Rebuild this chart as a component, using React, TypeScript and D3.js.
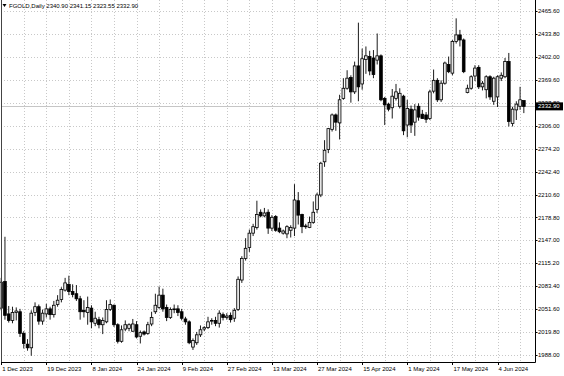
import React from 'react';
import * as d3 from 'd3';

// ---- data (daily candles, FGOLD) ----
const opens = [
  2053, 2090, 2045, 2036, 2047, 2048, 2018, 2003, 1998, 2047,
  2055, 2035, 2045, 2052, 2044, 2058, 2065, 2078, 2086, 2076,
  2073, 2066, 2050, 2047, 2053, 2032, 2037, 2030, 2034, 2051,
  2057, 2030, 2007, 2024, 2025, 2021, 2030, 2014, 2020, 2018,
  2031, 2048, 2054, 2071, 2054, 2040, 2051, 2052, 2048, 2038,
  2034, 1999, 2005, 2016, 2024, 2026, 2035, 2036, 2032, 2044,
  2040, 2043, 2039, 2051, 2092, 2122, 2137, 2157, 2165, 2186,
  2181, 2186, 2164, 2180, 2164, 2157, 2156, 2161, 2164, 2202,
  2183, 2166, 2165, 2172, 2190, 2210, 2256, 2273, 2301, 2321,
  2310, 2344, 2358, 2373, 2353, 2389, 2364, 2398, 2402, 2400,
  2397, 2403, 2344, 2336, 2331, 2344, 2333, 2347, 2307, 2329,
  2311, 2333, 2322, 2321, 2316, 2354, 2369, 2342, 2365, 2391,
  2379, 2423, 2432, 2425, 2352, 2358, 2375, 2387, 2360, 2356,
  2374, 2340, 2346, 2372, 2374, 2395, 2309, 2328, 2333, 2340.9,
];
const highs = [
  2095, 2152, 2056, 2055, 2054, 2052, 2021, 2010, 2050, 2061,
  2058, 2051, 2059, 2055, 2063, 2071, 2082, 2095, 2098, 2086,
  2085, 2070, 2064, 2069, 2057, 2048, 2041, 2040, 2064, 2065,
  2058, 2032, 2029, 2036, 2032, 2038, 2035, 2022, 2022, 2034,
  2048, 2073, 2083, 2080, 2058, 2054, 2058, 2057, 2052, 2041,
  2036, 2011, 2020, 2029, 2028, 2041, 2039, 2041, 2050, 2047,
  2046, 2047, 2053, 2097, 2125, 2150, 2162, 2170, 2202, 2190,
  2192, 2190, 2182, 2182, 2172, 2162, 2168, 2168, 2225, 2214,
  2184, 2170, 2180, 2201, 2213, 2256, 2286, 2303, 2323, 2323,
  2349, 2372, 2383, 2376, 2395, 2449, 2413, 2416, 2410, 2411,
  2434, 2405, 2346, 2338, 2357, 2364, 2358, 2349, 2342, 2334,
  2336, 2337, 2328, 2325, 2356, 2384, 2372, 2369, 2395, 2402,
  2425, 2455, 2439, 2427, 2363, 2376, 2390, 2390, 2368, 2376,
  2376, 2374, 2376, 2380, 2400, 2407, 2332, 2340, 2360, 2341.15,
];
const lows = [
  2050, 2037, 2033, 2032, 2036, 2013, 1997, 1994, 1987, 2042,
  2030, 2030, 2040, 2037, 2040, 2055, 2061, 2076, 2071, 2068,
  2063, 2037, 2040, 2030, 2025, 2028, 2025, 2017, 2032, 2049,
  2027, 2004, 2005, 2021, 2021, 2020, 2011, 2004, 2015, 2016,
  2028, 2045, 2052, 2048, 2035, 2038, 2046, 2042, 2036, 2030,
  2003, 1995, 2002, 2013, 2021, 2024, 2030, 2028, 2026, 2036,
  2037, 2033, 2034, 2049, 2088, 2119, 2131, 2153, 2162, 2179,
  2179, 2156, 2160, 2159, 2157, 2155, 2150, 2151, 2153, 2169,
  2157, 2163, 2164, 2170, 2185, 2207, 2249, 2268, 2298, 2299,
  2287, 2342, 2356, 2338, 2350, 2340, 2356, 2378, 2376, 2372,
  2391, 2340, 2307, 2326, 2316, 2341, 2330, 2293, 2290, 2296,
  2292, 2313, 2316, 2310, 2314, 2351, 2339, 2339, 2363, 2379,
  2376, 2420, 2416, 2379, 2351, 2356, 2368, 2357, 2355, 2344,
  2342, 2335, 2332, 2368, 2372, 2305, 2305, 2314, 2328, 2323.55,
];
const closes = [
  2089, 2043, 2036, 2047, 2049, 2018, 2004, 1998, 2046, 2055,
  2035, 2046, 2052, 2044, 2057, 2064, 2079, 2088, 2076, 2072,
  2066, 2048, 2048, 2054, 2034, 2039, 2030, 2036, 2051, 2058,
  2030, 2007, 2023, 2030, 2030, 2031, 2013, 2019, 2017, 2030,
  2040, 2057, 2071, 2052, 2040, 2051, 2052, 2047, 2039, 2034,
  2005, 2008, 2016, 2023, 2026, 2034, 2036, 2032, 2046, 2040,
  2042, 2037, 2050, 2093, 2122, 2136, 2157, 2166, 2183, 2181,
  2185, 2164, 2179, 2161, 2159, 2160, 2166, 2165, 2203, 2182,
  2166, 2167, 2172, 2186, 2210, 2254, 2272, 2302, 2321, 2311,
  2342, 2358, 2372, 2353, 2389, 2360, 2399, 2403, 2382, 2377,
  2403, 2342, 2335, 2329, 2347, 2353, 2351, 2299, 2330, 2307,
  2328, 2318, 2316, 2315, 2353, 2369, 2342, 2365, 2393, 2381,
  2423, 2432, 2425, 2381, 2358, 2374, 2386, 2360, 2365, 2374,
  2346, 2372, 2374, 2376, 2395, 2312, 2329, 2336, 2342, 2332.9,
];

const timeLabels = [
  '1 Dec 2023', '19 Dec 2023', '8 Jan 2024', '24 Jan 2024', '9 Feb 2024', '27 Feb 2024',
  '13 Mar 2024', '27 Mar 2024', '15 Apr 2024', '1 May 2024', '17 May 2024', '4 Jun 2024',
];
const timeLabelStep = 12;
const gridStep = 6;

const priceTicks = [
  2465.6, 2433.8, 2402.0, 2369.6, 2337.8, 2306.0, 2274.2, 2242.4,
  2210.6, 2178.8, 2147.0, 2115.2, 2083.4, 2051.6, 2019.8, 1988.0,
];
const symbolName = 'FGOLD,Daily';
const lastOHLC = [2340.9, 2341.15, 2323.55, 2332.9];

const W = 564;
const H = 376;
const FONT = "'Liberation Sans', Arial, sans-serif";

export default function App() {
  const n = opens.length;
  const plotRight = 535;
  const plotBottom = 362;
  const barStep = 3.76;
  const x = d3.scaleLinear().domain([0, n - 1]).range([1.2, 1.2 + barStep * (n - 1)]);
  const y = d3.scaleLinear().domain([1988, 2465.6]).range([355, 10.7]);
  const bodyW = 2.7;

  const vGrid = d3.range(gridStep, n + 3, gridStep).map((i) => x(i)).filter((v) => v < plotRight - 2);
  const lastClose = lastOHLC[3];
  const yLast = y(lastClose);

  return (
    <svg
      width={W}
      height={H}
      style={{ position: 'absolute', left: 0, top: 0, background: '#fff' }}
      fontFamily={FONT}
    >
      <rect x={0} y={0} width={W} height={H} fill="#fff" />
      {/* grid */}
      <g stroke="#c8c8c8" strokeWidth={1} strokeDasharray="1,2">
        {priceTicks.map((p) => (
          <line key={'h' + p} x1={1} x2={plotRight} y1={Math.round(y(p)) + 0.5} y2={Math.round(y(p)) + 0.5} />
        ))}
        {vGrid.map((v, k) => (
          <line key={'v' + k} x1={Math.round(v) + 0.5} x2={Math.round(v) + 0.5} y1={0} y2={plotBottom} />
        ))}
      </g>
      {/* last price line */}
      <line x1={1} x2={plotRight} y1={Math.round(yLast) + 0.5} y2={Math.round(yLast) + 0.5} stroke="#c6c6c6" strokeWidth={1} />
      {/* candles */}
      <g>
        {opens.map((o, i) => {
          const c = closes[i];
          const cx = x(i);
          const top = y(Math.max(o, c));
          const bot = y(Math.min(o, c));
          const bull = c >= o;
          return (
            <g key={i}>
              <line x1={cx} x2={cx} y1={y(highs[i])} y2={y(lows[i])} stroke="#000" strokeWidth={0.9} />
              <rect
                x={cx - bodyW / 2}
                y={top}
                width={bodyW}
                height={Math.max(bot - top, 0.8)}
                fill={bull ? '#e6e6e6' : '#000'}
                stroke="#000"
                strokeWidth={0.8}
              />
            </g>
          );
        })}
      </g>
      {/* frame */}
      <line x1={1.5} x2={1.5} y1={0} y2={plotBottom} stroke="#444" strokeWidth={1} />
      <line x1={plotRight + 0.5} x2={plotRight + 0.5} y1={0} y2={plotBottom + 0.5} stroke="#000" strokeWidth={1} />
      <line x1={1} x2={plotRight + 0.5} y1={plotBottom + 0.5} y2={plotBottom + 0.5} stroke="#000" strokeWidth={1} />
      {/* price axis */}
      <g fontSize={6} fill="#000">
        {priceTicks.map((p) => (
          <g key={'t' + p}>
            <line x1={plotRight} x2={plotRight + 2.5} y1={Math.round(y(p)) + 0.5} y2={Math.round(y(p)) + 0.5} stroke="#000" />
            <text x={plotRight + 3} y={y(p)} dy="0.35em">{p.toFixed(2)}</text>
          </g>
        ))}
      </g>
      {/* last price label */}
      <rect x={plotRight + 1} y={yLast - 4} width={W - plotRight - 2} height={8} fill="#000" />
      <text x={plotRight + 3} y={yLast} dy="0.35em" fontSize={6} fill="#fff">{lastClose.toFixed(2)}</text>
      {/* time axis */}
      <g fontSize={6} fill="#000">
        {timeLabels.map((t, k) => {
          const xi = x(k * timeLabelStep);
          return (
            <g key={t}>
              <line x1={Math.round(xi) + 0.5} x2={Math.round(xi) + 0.5} y1={plotBottom} y2={plotBottom + 3} stroke="#000" />
              <text x={xi + 1} y={371}>{t}</text>
            </g>
          );
        })}
      </g>
      {/* header */}
      <path d="M2.5,4 L6.5,4 L4.5,7 Z" fill="#000" />
      <text x={9} y={8} fontSize={6} fill="#000">
        {symbolName + '  ' + lastOHLC.map((v) => v.toFixed(2)).join(' ')}
      </text>
    </svg>
  );
}
